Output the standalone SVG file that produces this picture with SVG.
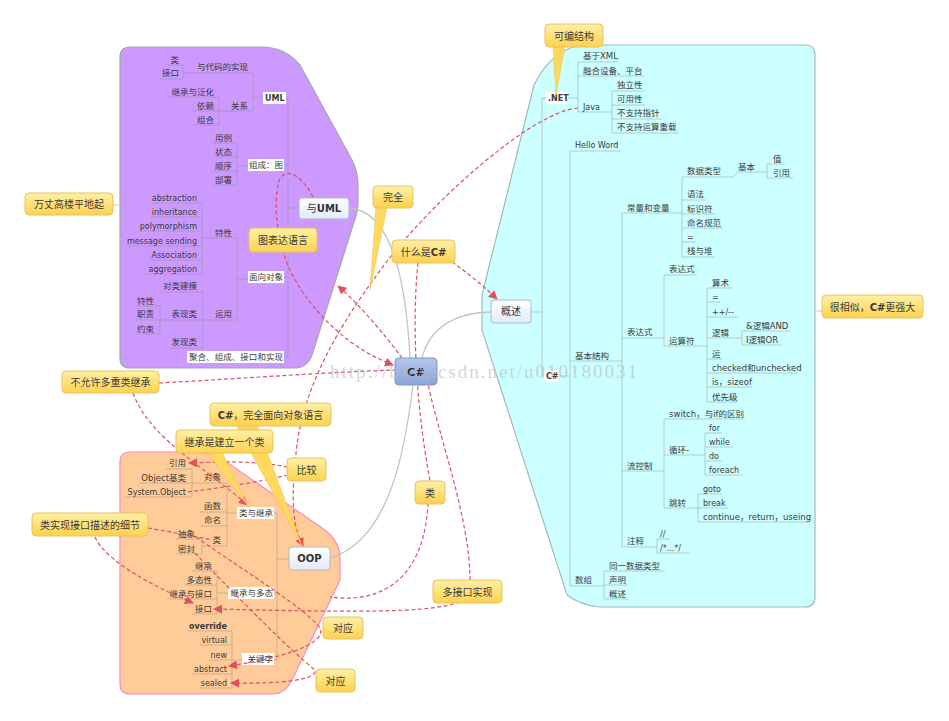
<svg xmlns="http://www.w3.org/2000/svg" width="949" height="721" viewBox="0 0 949 721">
<defs>
<linearGradient id="gy" x1="0" y1="0" x2="0" y2="1"><stop offset="0" stop-color="#fff0a6"/><stop offset="1" stop-color="#fdd24e"/></linearGradient>
<linearGradient id="gt" x1="0" y1="0" x2="0" y2="1"><stop offset="0" stop-color="#ffffff"/><stop offset="1" stop-color="#e2eaf8"/></linearGradient>
<linearGradient id="gc" x1="0" y1="0" x2="0" y2="1"><stop offset="0" stop-color="#b4c6ec"/><stop offset="1" stop-color="#8aa4d8"/></linearGradient>
<marker id="ar" viewBox="0 0 10 10" refX="9" refY="5" markerWidth="9" markerHeight="9" orient="auto" markerUnits="userSpaceOnUse"><path d="M0 0L10 5L0 10z" fill="#e0505f"/></marker>
</defs>
<style>
.n{font-family:"DejaVu Sans","Noto Sans CJK SC",sans-serif;font-size:8.5px;fill:#3a3a3a}
.e{font-size:8px}
.b{font-weight:bold}
.r{text-anchor:end}
.tl{fill:none;stroke:#8f8f8f;stroke-opacity:.45;stroke-width:1}
.wb{fill:#fff}
.co rect{fill:url(#gy);stroke:#e8c260;stroke-width:1}
.co text{font-family:"Noto Sans CJK SC","DejaVu Sans",sans-serif;font-size:10px;fill:#3a3a3a;text-anchor:middle}
.tail{fill:#ffd85e;stroke:#efc552;stroke-width:.6}
.stub{stroke:#e8c878;stroke-width:1}
.tp rect{fill:url(#gt);stroke:#a9b8d2;stroke-width:1}
.tp text{font-family:"DejaVu Sans","Noto Sans CJK SC",sans-serif;font-size:10px;fill:#333;text-anchor:middle}
.gl{fill:none;stroke:#c4c4c4;stroke-width:1.3}
.rel{fill:none;stroke:#e0505f;stroke-width:1.2;stroke-dasharray:4 2.5}
</style>

<g id="regions">
<path d="M130 47H262Q285 47 300 65L352 160Q358 172 358 185V200Q358 212 354 222L312 355Q307 368 294 368H130Q120 368 120 358V57Q120 47 130 47Z" fill="#cc99ff" stroke="#a6a6a6" stroke-width="1.2"/>
<path d="M580 45H805Q815 45 815 55V597Q815 607 805 607H600Q580 605 567 595L482 330V295L534 85Q550 52 580 45Z" fill="#ccffff" stroke="#a8b8b8" stroke-width="1.2"/>
<path d="M130 452H195Q210 452 225 461L325 530Q340 542 340 558V580L292 680Q285 694 272 694H130Q120 694 120 684V462Q120 452 130 452Z" fill="#ffcc99" stroke="#ff88c0" stroke-width="1.2"/>
</g>

<g id="tree-lines">
<path class="tl" d="M167 65H183M159 79H183M183 65V79M183 73H253M168 97H219M193 111H219M193 125H219M219 97V125M219 111H253M253 73V111M253 97H263M213 143H237M213 157H237M213 171H237M213 185H237M237 143V185M237 166H248M150 203H202M150 217H202M139 231H202M126 246H202M150 260H202M146 274H202M202 203V274M202 238H237M160 292H203M135 306H160M135 320H160M135 334H160M160 306V334M160 320H203M170 348H203M203 292V348M203 320H237M237 238V320M237 279H248M288 98V357M284 98H288M284 165H288M284 277H288M284 357H288M288 208H299"/>
<path class="tl" d="M166 469H192M140 483H192M125 497H192M192 469V497M192 483H227M200 512H227M200 526H227M175 539H202M175 554H202M202 539V554M202 546H227M227 483V546M227 513H237M192 571H217M185 585H217M167 599H217M192 614H217M217 571V614M217 593H228M188 631H232M200 645H232M209 660H232M193 674H232M200 688H232M232 631V688M232 660H242M277 513V660M273 513H277M273 593H277M273 660H277M277 559H289"/>
<path class="tl" d="M531 312H542M542 98V376M542 98H546M542 376H544M568 98H578M578 62V112M578 62H618M578 76H645M578 112H612M612 91V133M612 91H645M612 105H645M612 119H662M612 133H679M558 376H570M570 151V586M570 151H620M570 361H622M570 586H604M622 213V547M622 213H682M682 177V257M682 177H733L738 172H767M767 164V178M767 164H785M767 178H793M682 200H706M682 214H715M682 228H723M682 242H696M682 257H715M622 338H664M664 275V346M664 275H697M664 346H707M707 288V402M707 288H732M707 302H720M707 317H738M707 338H742M742 331V345M742 331H790M742 345H782M707 359H722M707 373H797M707 387H752M707 402H738M622 471H664M664 419V508M664 419H745M664 455H705M705 433V475M705 433H722M705 447H733M705 461H722M705 475H742M664 508H698M698 494V522M698 494H722M698 508H728M698 522H808M622 547H657M657 539V553M657 539H670M657 553H690M604 571V599M604 571H665M604 585H628M604 599H628"/>
</g>

<g id="uml-labels" class="n">
<text class="r" x="179" y="63">类</text>
<text class="r" x="179" y="76">接口</text>
<text class="r" x="248" y="70">与代码的实现</text>
<text class="r" x="214" y="95">继承与泛化</text>
<text class="r" x="214" y="109">依赖</text>
<text class="r" x="214" y="123">组合</text>
<text class="r" x="248" y="109">关系</text>
<rect class="wb" x="263" y="92" width="23" height="12"/>
<text class="b e" x="265" y="101">UML</text>
<text class="r" x="232" y="141">用例</text>
<text class="r" x="232" y="155">状态</text>
<text class="r" x="232" y="169">顺序</text>
<text class="r" x="232" y="183">部署</text>
<rect class="wb" x="248" y="159" width="36" height="12"/>
<text class="r" x="283" y="168">组成：图</text>
<text class="r e" x="197" y="201">abstraction</text>
<text class="r e" x="197" y="215">inheritance</text>
<text class="r e" x="197" y="229">polymorphism</text>
<text class="r e" x="197" y="244">message sending</text>
<text class="r e" x="197" y="258">Association</text>
<text class="r e" x="197" y="272">aggregation</text>
<text class="r" x="232" y="236">特性</text>
<text class="r" x="197" y="289">对类建模</text>
<text class="r" x="154" y="304">特性</text>
<text class="r" x="154" y="317">职责</text>
<text class="r" x="154" y="332">约束</text>
<text class="r" x="197" y="317">表现类</text>
<text class="r" x="197" y="345">发现类</text>
<text class="r" x="232" y="317">运用</text>
<rect class="wb" x="248" y="271" width="36" height="12"/>
<text class="r" x="283" y="280">面向对象</text>
<rect class="wb" x="187" y="351" width="97" height="12"/>
<text class="r" x="283" y="360" textLength="94">聚合、组成、接口和实现</text>
</g>

<g id="oop-labels" class="n">
<text class="r" x="186" y="466">引用</text>
<text class="r" x="186" y="481">Object基类</text>
<text class="r e" x="186" y="495">System.Object</text>
<text class="r" x="221" y="480">对象</text>
<text class="r" x="221" y="509">函数</text>
<text class="r" x="221" y="523">命名</text>
<text class="r" x="195" y="537">抽象</text>
<text class="r" x="195" y="552">密封</text>
<text class="r" x="221" y="543">类</text>
<rect class="wb" x="237" y="507" width="37" height="12"/>
<text class="r" x="273" y="516">类与继承</text>
<text class="r" x="212" y="569">继承</text>
<text class="r" x="212" y="583">多态性</text>
<text class="r" x="212" y="597">继承与接口</text>
<text class="r" x="212" y="612">接口</text>
<rect class="wb" x="228" y="587" width="46" height="12"/>
<text class="r" x="273" y="596">继承与多态</text>
<text class="r e b" x="227" y="629">override</text>
<text class="r e" x="227" y="643">virtual</text>
<text class="r e" x="227" y="658">new</text>
<text class="r e" x="227" y="672">abstract</text>
<text class="r e" x="227" y="686">sealed</text>
<rect class="wb" x="242" y="653" width="32" height="12"/>
<text class="r" x="273" y="662">关键字</text>
</g>

<g id="overview-labels" class="n">
<rect class="wb" x="546" y="92" width="22" height="12"/>
<text class="b e" x="548" y="101">.NET</text>
<text x="583" y="59">基于XML</text>
<text x="583" y="74">融合设备、平台</text>
<text class="e" x="583" y="110">Java</text>
<text x="617" y="88">独立性</text>
<text x="617" y="102">可用性</text>
<text x="617" y="116">不支持指针</text>
<text x="617" y="130">不支持运算重载</text>
<text class="e" x="575" y="148">Hello Word</text>
<rect class="wb" x="544" y="370" width="15" height="12"/>
<text class="b e" x="546" y="379">C#</text>
<text x="575" y="359">基本结构</text>
<text x="575" y="583">数组</text>
<text x="627" y="211">常量和变量</text>
<text x="687" y="174">数据类型</text>
<text x="738" y="170">基本</text>
<text x="773" y="162">值</text>
<text x="773" y="176">引用</text>
<text x="687" y="197">语法</text>
<text x="687" y="212">标识符</text>
<text x="687" y="226">命名规范</text>
<text class="e" x="687" y="240">=</text>
<text x="687" y="254">栈与堆</text>
<text x="627" y="335">表达式</text>
<text x="669" y="272">表达式</text>
<text x="669" y="344">运算符</text>
<text x="712" y="286">算术</text>
<text class="e" x="712" y="300">=</text>
<text class="e" x="712" y="315">++/--</text>
<text x="712" y="336">逻辑</text>
<text x="746" y="329">&amp;逻辑AND</text>
<text x="746" y="343">I逻辑OR</text>
<text x="712" y="357">运</text>
<text x="712" y="371">checked和unchecked</text>
<text x="712" y="385">is，sizeof</text>
<text x="712" y="400">优先级</text>
<text x="627" y="469">流控制</text>
<text x="669" y="417">switch，与if的区别</text>
<text x="669" y="453">循环-</text>
<text class="e" x="709" y="431">for</text>
<text class="e" x="709" y="445">while</text>
<text class="e" x="709" y="459">do</text>
<text class="e" x="709" y="473">foreach</text>
<text x="669" y="506">跳转</text>
<text class="e" x="703" y="492">goto</text>
<text class="e" x="703" y="506">break</text>
<text x="703" y="520">continue，return，useing</text>
<text x="627" y="544">注释</text>
<text class="e" x="660" y="537">//</text>
<text class="e" x="660" y="551">/*...*/</text>
<text x="609" y="569">同一数据类型</text>
<text x="609" y="583">声明</text>
<text x="609" y="597">概述</text>
</g>

<g id="connectors">
<path class="gl" d="M349 208C385 210 405 260 410 358"/>
<path class="gl" d="M422 358C430 325 460 312 491 312"/>
<path class="gl" d="M413 385C405 450 390 540 330 558"/>
<path class="rel" marker-end="url(#ar)" d="M313 197C300 172 282 165 278 185S276 240 290 270S340 345 393 365"/>
<path class="rel" marker-end="url(#ar)" d="M402 358C385 335 360 305 338 286"/>
<path class="rel" marker-end="url(#ar)" d="M578 108C530 112 430 205 388 260S305 380 297 445S295 530 303 546"/>
<path class="rel" marker-end="url(#ar)" d="M452 262Q475 278 497 299"/>
<path class="rel" d="M418 263C412 320 415 400 430 481"/>
<path class="rel" d="M428 503C425 570 390 605 330 597"/>
<path class="rel" d="M470 580C470 520 440 440 428 384"/>
<path class="rel" marker-end="url(#ar)" d="M460 602C430 612 380 613 214 609"/>
<path class="rel" d="M159 383C250 378 330 372 395 370"/>
<path class="rel" marker-end="url(#ar)" d="M133 393C150 440 210 470 247 505"/>
<path class="rel" marker-end="url(#ar)" d="M288 467C250 460 220 462 189 463"/>
<path class="rel" d="M288 475C260 482 220 488 187 492"/>
<path class="rel" d="M148 528C170 532 195 536 212 540"/>
<path class="rel" marker-end="url(#ar)" d="M95 537C105 560 150 585 193 603"/>
<path class="rel" marker-end="url(#ar)" d="M196 537C250 575 305 608 320 628C326 640 300 655 229 666"/>
<path class="rel" marker-end="url(#ar)" d="M195 553C240 600 290 650 315 670C318 680 280 684 231 683"/>
</g>

<g id="topic-uml" class="tp"><rect x="299" y="198" width="50" height="21" rx="3"/><text x="324" y="212">与<tspan font-weight="bold">UML</tspan></text></g>
<g id="topic-overview" class="tp"><rect x="491" y="300" width="40" height="23" rx="3"/><text x="511" y="315">概述</text></g>
<g id="topic-oop" class="tp"><rect x="289" y="547" width="41" height="23" rx="3"/><text x="309.5" y="562" font-weight="bold">OOP</text></g>
<g id="center"><rect x="395" y="358" width="42" height="27" rx="4" fill="url(#gc)" stroke="#7f98c8"/><text x="416" y="376" text-anchor="middle" font-family="DejaVu Sans,sans-serif" font-weight="bold" font-size="11" fill="#222">C#</text></g>

<g id="callouts" class="co">
<polygon class="tail" points="553,46 565,46 556,95"/>
<polygon class="tail" points="376,207 387,207 370,290"/>
<polygon class="tail" points="236,425 257,425 302,546"/>
<polygon class="tail" points="207,452 222,452 247,505"/>
<line class="stub" x1="113" y1="205" x2="120" y2="205"/>
<line class="stub" x1="815" y1="311" x2="822" y2="311"/>
<g id="c-kebian"><rect x="545" y="24" width="58" height="23" rx="4"/><text x="574" y="40">可编结构</text></g>
<g id="c-wanquan"><rect x="373" y="186" width="40" height="22" rx="4"/><text x="393" y="201">完全</text></g>
<g id="c-what"><rect x="392" y="240" width="63" height="23" rx="4"/><text x="423.5" y="256">什么是<tspan font-weight="bold" font-family="DejaVu Sans">C#</tspan></text></g>
<g id="c-tubiao"><rect x="249" y="228" width="68" height="24" rx="4"/><text x="283" y="244">图表达语言</text></g>
<g id="c-wanzhang"><rect x="25" y="193" width="88" height="22" rx="4"/><text x="69" y="208">万丈高楼平地起</text></g>
<g id="c-similar"><rect x="822" y="295" width="101" height="23" rx="4"/><text x="872.5" y="311">很相似，<tspan font-weight="bold" font-family="DejaVu Sans">C#</tspan>更强大</text></g>
<g id="c-nomulti"><rect x="62" y="371" width="97" height="22" rx="4"/><text x="110.5" y="386">不允许多重类继承</text></g>
<g id="c-fullyoo"><rect x="210" y="403" width="121" height="23" rx="4"/><text x="270.5" y="419"><tspan font-weight="bold" font-family="DejaVu Sans">C#</tspan>，完全面向对象语言</text></g>
<g id="c-inherit"><rect x="176" y="430" width="97" height="23" rx="4"/><text x="224.5" y="446">继承是建立一个类</text></g>
<g id="c-compare"><rect x="287" y="458" width="39" height="23" rx="4"/><text x="306.5" y="474">比较</text></g>
<g id="c-detail"><rect x="32" y="513" width="116" height="23" rx="4"/><text x="90" y="529">类实现接口描述的细节</text></g>
<g id="c-class"><rect x="415" y="481" width="30" height="23" rx="4"/><text x="430" y="497">类</text></g>
<g id="c-multi"><rect x="433" y="580" width="69" height="23" rx="4"/><text x="467.5" y="596">多接口实现</text></g>
<g id="c-duiying1"><rect x="323" y="617" width="40" height="22" rx="4"/><text x="343" y="632">对应</text></g>
<g id="c-duiying2"><rect x="316" y="669" width="39" height="23" rx="4"/><text x="335.5" y="685">对应</text></g>
</g>

<text x="330" y="378" textLength="307" font-family="Liberation Serif,serif" font-size="19" fill="#b8b8b8" fill-opacity=".6">http://blog.csdn.net/u010180031</text>
</svg>
